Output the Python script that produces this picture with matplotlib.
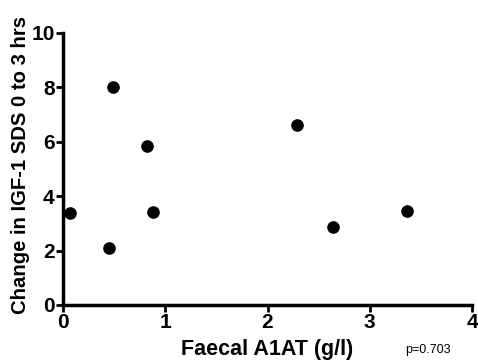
import matplotlib
matplotlib.use("Agg")
import matplotlib.pyplot as plt

faecal_a1at = [0.07, 0.45, 0.49, 0.82, 0.88, 2.29, 2.64, 3.36]
igf1_change = [3.39, 2.08, 8.03, 5.85, 3.43, 6.61, 2.87, 3.44]
x_ticks = [0, 1, 2, 3, 4]
y_ticks = [0, 2, 4, 6, 8, 10]

plt.rcParams['font.family'] = ['Liberation Sans', 'DejaVu Sans']

fig = plt.figure(figsize=(4.78, 3.6), dpi=100)
ax = fig.add_axes([63/478, 1 - 305/360, (472-63)/478, (305-33)/360])
ax.scatter(faecal_a1at, igf1_change, s=65, color='black', zorder=3, clip_on=False)
ax.set_xlim(0, 4)
ax.set_ylim(0, 10)
ax.set_xticks(x_ticks)
ax.set_yticks(y_ticks)
for s in ['top', 'right']:
    ax.spines[s].set_visible(False)
for s in ['left', 'bottom']:
    ax.spines[s].set_linewidth(2.5)
ax.tick_params(width=2, length=5, labelsize=15, pad=1)
for lab in ax.get_xticklabels() + ax.get_yticklabels():
    lab.set_fontweight('bold')
ax.set_xlabel('Faecal A1AT (g/l)', fontsize=15.5, fontweight='bold', labelpad=5)
fig.text(21/478, 1 - 165/360, 'Change in IGF-1 SDS 0 to 3 hrs', fontsize=14.6,
         fontweight='bold', rotation=90, ha='center', va='center')
fig.text(428/478, 1 - 350/360, 'p=0.703', fontsize=9, ha='center', va='center')
fig.savefig('out.png', dpi=100)
